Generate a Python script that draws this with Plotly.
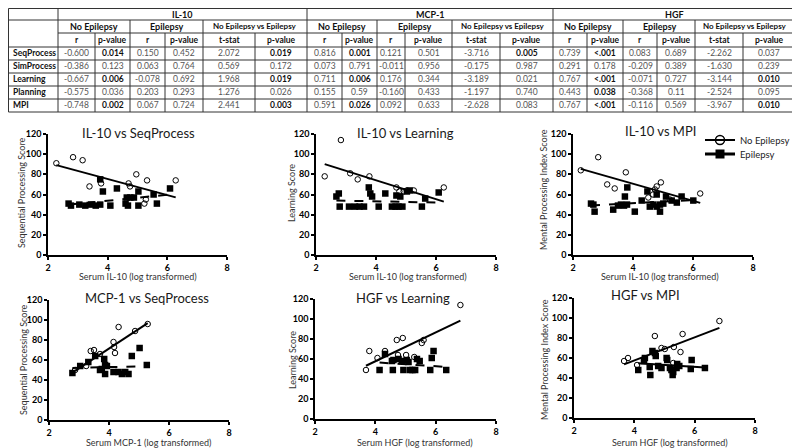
import plotly.graph_objects as go

# The page body adds an 8px margin; size the figure to the visible window and shift coordinates
OX, OY = 8, 8
FW, FH = 792, 440
FONT = "Lato"

# ---------------- Table data ----------------
markers = ["IL-10", "MCP-1", "HGF"]
subgroups = ["No Epilepsy", "Epilepsy", "No Epilepsy vs Epilepsy"]
subheads = ["r", "p-value", "r", "p-value", "t-stat", "p-value"]
outcomes = ["SeqProcess", "SimProcess", "Learning", "Planning", "MPI"]

il10_no_r = ["-0.600", "-0.386", "-0.667", "-0.575", "-0.748"]
il10_no_p = ["0.014", "0.123", "0.006", "0.036", "0.002"]
il10_ep_r = ["0.150", "0.063", "-0.078", "0.203", "0.067"]
il10_ep_p = ["0.452", "0.764", "0.692", "0.293", "0.724"]
il10_t = ["2.072", "0.569", "1.968", "1.276", "2.441"]
il10_tp = ["0.019", "0.172", "0.019", "0.026", "0.003"]

mcp1_no_r = ["0.816", "0.073", "0.711", "0.155", "0.591"]
mcp1_no_p = ["0.001", "0.791", "0.006", "0.59", "0.026"]
mcp1_ep_r = ["0.121", "-0.011", "0.176", "-0.160", "0.092"]
mcp1_ep_p = ["0.501", "0.956", "0.344", "0.433", "0.633"]
mcp1_t = ["-3.716", "-0.175", "-3.189", "-1.197", "-2.628"]
mcp1_tp = ["0.005", "0.987", "0.021", "0.740", "0.083"]

hgf_no_r = ["0.739", "0.291", "0.767", "0.443", "0.767"]
hgf_no_p = ["<.001", "0.178", "<.001", "0.038", "<.001"]
hgf_ep_r = ["0.083", "-0.209", "-0.071", "-0.368", "-0.116"]
hgf_ep_p = ["0.689", "0.389", "0.727", "0.11", "0.569"]
hgf_t = ["-2.262", "-1.630", "-3.144", "-2.524", "-3.967"]
hgf_tp = ["0.037", "0.239", "0.010", "0.095", "0.010"]

# bold flags for each p-value column
il10_no_bold = [1, 0, 1, 0, 1]
il10_tp_bold = [1, 0, 1, 0, 1]
mcp1_no_bold = [1, 0, 1, 0, 1]
mcp1_tp_bold = [1, 0, 0, 0, 0]
hgf_no_bold = [1, 0, 1, 1, 1]
hgf_tp_bold = [0, 0, 1, 0, 1]
none_bold = [0, 0, 0, 0, 0]

table_cols = [
    (il10_no_r, none_bold), (il10_no_p, il10_no_bold), (il10_ep_r, none_bold),
    (il10_ep_p, none_bold), (il10_t, none_bold), (il10_tp, il10_tp_bold),
    (mcp1_no_r, none_bold), (mcp1_no_p, mcp1_no_bold), (mcp1_ep_r, none_bold),
    (mcp1_ep_p, none_bold), (mcp1_t, none_bold), (mcp1_tp, mcp1_tp_bold),
    (hgf_no_r, none_bold), (hgf_no_p, hgf_no_bold), (hgf_ep_r, none_bold),
    (hgf_ep_p, none_bold), (hgf_t, none_bold), (hgf_tp, hgf_tp_bold),
]

# ---------------- Scatter data ----------------
# Panel 1: IL-10 vs SeqProcess
p1_x_no = [2.28, 2.84, 3.16, 3.39, 3.78, 4.70, 4.75, 4.96, 5.32, 5.23, 5.28, 6.28]
p1_y_no = [91, 97, 94, 68, 71, 71, 68, 80, 74, 51, 55, 74]
p1_x_ep = [2.69, 2.77, 3.05, 3.25, 3.45, 3.60, 3.75, 3.75, 3.84, 4.09, 4.31, 4.60, 4.68, 4.64, 4.76, 4.88, 5.03, 5.03, 5.54, 5.65, 6.09]
p1_y_ep = [51, 49, 50, 49, 50, 49, 50, 75, 63, 49, 66, 51, 49, 57, 57, 57, 63, 49, 60, 51, 66]
p1_fit_no = [-8.0, 107.4]
p1_fit_ep = [2.94, 42.06]

# Panel 2: IL-10 vs Learning
p2_x_no = [2.29, 2.83, 3.14, 3.39, 3.78, 4.68, 4.78, 4.92, 5.03, 5.26, 6.26]
p2_y_no = [78, 114, 81, 75, 78, 67, 63, 63, 64, 64, 67]
p2_x_ep = [2.68, 2.76, 2.79, 3.10, 3.30, 3.45, 3.60, 3.76, 3.81, 3.87, 4.09, 4.31, 4.53, 4.65, 4.75, 4.88, 4.68, 4.81, 5.03, 5.12, 5.53, 5.64, 6.09]
p2_y_ep = [58, 61, 48, 48, 48, 48, 48, 67, 61, 58, 48, 61, 48, 48, 48, 48, 59, 58, 63, 64, 48, 56, 62]
p2_fit_no = [-9.37, 111.55]
p2_fit_ep = [-0.59, 55.6]

# Panel 3: IL-10 vs MPI
p3_x_no = [2.26, 2.84, 3.14, 3.39, 3.76, 4.51, 4.67, 4.73, 4.79, 4.93, 5.23, 6.24]
p3_y_no = [84, 97, 70, 66, 82, 57, 60, 65, 68, 72, 55, 61]
p3_x_ep = [2.60, 2.68, 2.72, 3.34, 3.50, 3.60, 3.70, 3.80, 3.73, 3.81, 4.06, 4.29, 4.48, 4.56, 4.68, 4.79, 4.90, 4.79, 4.90, 5.01, 5.10, 5.29, 5.46, 5.62, 6.01]
p3_y_ep = [51, 50, 43, 45, 49, 50, 49, 50, 58, 67, 43, 54, 63, 48, 50, 48, 50, 60, 43, 51, 58, 54, 52, 58, 54]
p3_fit_no = [-8.46, 104.5]
p3_fit_ep = [1.57, 45.1]

# Panel 4: MCP-1 vs SeqProcess
p4_x_no = [2.87, 3.24, 3.39, 3.50, 3.70, 4.15, 4.17, 4.20, 4.32, 4.87, 5.29]
p4_y_no = [50, 54, 69, 70, 66, 78, 73, 67, 93, 89, 96]
p4_x_ep = [2.78, 3.04, 3.31, 3.54, 3.70, 3.76, 3.84, 3.87, 3.93, 3.87, 4.15, 4.32, 4.43, 4.54, 4.65, 4.76, 5.02, 5.26]
p4_y_ep = [47, 54, 58, 64, 50, 51, 61, 55, 54, 46, 48, 48, 46, 48, 46, 64, 72, 55]
p4_fit_no = [19.7, -7.4]
p4_fit_ep = [0.8, 49.7]

# Panel 5: HGF vs Learning
p5_x_no = [3.69, 3.80, 4.07, 4.32, 4.71, 4.91, 4.75, 5.02, 5.29, 5.54, 5.60, 6.82]
p5_y_no = [49, 68, 61, 68, 79, 81, 64, 64, 62, 76, 79, 114]
p5_x_ep = [4.14, 4.32, 4.55, 4.60, 4.58, 4.77, 4.88, 4.93, 5.04, 5.10, 5.15, 5.23, 5.32, 5.38, 5.47, 5.82, 5.87, 5.93, 6.35]
p5_y_ep = [49, 65, 58, 59, 49, 60, 58, 49, 59, 57, 49, 49, 49, 60, 58, 49, 61, 68, 49]
p5_fit_no = [14.4, 0.13]
p5_fit_ep = [-1.97, 64.6]

# Panel 6: HGF vs MPI
p6_x_no = [3.66, 3.79, 4.09, 4.68, 4.90, 5.01, 5.31, 5.29, 5.60, 5.53, 6.82]
p6_y_no = [57, 60, 53, 82, 70, 69, 71, 55, 84, 66, 97]
p6_x_ep = [4.13, 4.35, 4.32, 4.51, 4.53, 4.60, 4.68, 4.71, 4.79, 4.90, 5.07, 5.09, 5.18, 5.23, 5.27, 5.29, 5.40, 5.49, 5.42, 5.87, 5.90, 6.34]
p6_y_ep = [48, 60, 57, 51, 43, 67, 65, 62, 52, 50, 60, 58, 50, 48, 43, 46, 50, 52, 54, 49, 58, 50]
p6_fit_no = [11.55, 11.4]
p6_fit_ep = [-1.92, 62.6]

x_ticks = [2, 4, 6, 8]
y_ticks = [0, 20, 40, 60, 80, 100, 120]

panels = [
    dict(title="IL-10 vs SeqProcess", xlab="Serum IL-10 (log transformed)", ylab="Sequential Processing Score",
         xn=p1_x_no, yn=p1_y_no, xe=p1_x_ep, ye=p1_y_ep, fn=p1_fit_no, fe=p1_fit_ep, edash="dash"),
    dict(title="IL-10 vs Learning", xlab="Serum IL-10 (log transformed)", ylab="Learning Score",
         xn=p2_x_no, yn=p2_y_no, xe=p2_x_ep, ye=p2_y_ep, fn=p2_fit_no, fe=p2_fit_ep, edash="dash"),
    dict(title="IL-10 vs MPI", xlab="Serum IL-10 (log transformed)", ylab="Mental Processing Index Score",
         xn=p3_x_no, yn=p3_y_no, xe=p3_x_ep, ye=p3_y_ep, fn=p3_fit_no, fe=p3_fit_ep, edash="dash"),
    dict(title="MCP-1 vs SeqProcess", xlab="Serum MCP-1 (log transformed)", ylab="Sequential Processing Score",
         xn=p4_x_no, yn=p4_y_no, xe=p4_x_ep, ye=p4_y_ep, fn=p4_fit_no, fe=p4_fit_ep, edash="dash"),
    dict(title="HGF vs Learning", xlab="Serum HGF (log transformed)", ylab="Learning Score",
         xn=p5_x_no, yn=p5_y_no, xe=p5_x_ep, ye=p5_y_ep, fn=p5_fit_no, fe=p5_fit_ep, edash="dash"),
    dict(title="HGF vs MPI", xlab="Serum HGF (log transformed)", ylab="Mental Processing Index Score",
         xn=p6_x_no, yn=p6_y_no, xe=p6_x_ep, ye=p6_y_ep, fn=p6_fit_no, fe=p6_fit_ep, edash="solid"),
]

# ---------------- Layout geometry (window pixels) ----------------
def PX(x):
    return (x - OX) / FW

def PY(y):
    return 1 - (y - OY) / FH

# plot boxes: (x0, x1, ytop, ybottom)
boxes = [(48, 227, 134, 255), (316, 496, 134, 255), (573, 753, 134, 255),
         (49, 229, 300, 420), (315, 496, 299, 419), (574, 755, 298, 418)]
title_pos = [(138, 133), (405, 133), (660, 131), (147, 298), (403, 298), (645, 295)]
xlab_pos = [(138, 276), (408, 276), (660, 276), (148, 442), (415, 442), (670, 442)]
ylab_pos = [(22, 193), (292, 193), (544, 190), (23, 360), (292, 360), (544, 360)]

fig = go.Figure()
annotations = []
shapes = []
TICKFONT = dict(family=FONT, size=9, color="black", weight="bold")


def note(x, y, text, size, color="#111", bold=False, xanchor="center", angle=0):
    annotations.append(dict(x=PX(x), y=PY(y), xref="paper", yref="paper", text=text, showarrow=False,
                            xanchor=xanchor, yanchor="middle", textangle=angle,
                            font=dict(family=FONT, size=size, color=color,
                                      weight="bold" if bold else "normal")))


for i, p in enumerate(panels):
    k = "" if i == 0 else str(i + 1)
    xa, ya = "x" + k, "y" + k
    x0, x1, yt, yb = boxes[i]
    fig.update_layout(**{
        "xaxis" + k: dict(domain=[PX(x0), PX(x1)], range=[2, 8], tickvals=x_ticks, anchor=ya,
                          showline=True, linecolor="black", linewidth=1.5, ticks="outside", ticklen=3,
                          tickwidth=1.5, tickcolor="black", showgrid=False, zeroline=False,
                          tickfont=TICKFONT, automargin=False),
        "yaxis" + k: dict(domain=[PY(yb), PY(yt)], range=[0, 120], tickvals=y_ticks, anchor=xa,
                          showline=True, linecolor="black", linewidth=1.5, ticks="outside", ticklen=3,
                          tickwidth=1.5, tickcolor="black", showgrid=False, zeroline=False,
                          tickfont=TICKFONT, automargin=False),
    })
    # fitted regression lines
    for xs, fit, dash in [(p["xn"], p["fn"], "solid"), (p["xe"], p["fe"], p["edash"])]:
        lo, hi = min(xs), max(xs)
        fig.add_trace(go.Scatter(x=[lo, hi], y=[fit[0] * lo + fit[1], fit[0] * hi + fit[1]],
                                 mode="lines", line=dict(color="black", width=2, dash=dash),
                                 xaxis=xa, yaxis=ya, showlegend=False, hoverinfo="skip"))
    fig.add_trace(go.Scatter(x=p["xe"], y=p["ye"], mode="markers", xaxis=xa, yaxis=ya,
                             marker=dict(symbol="square", size=6.5, color="black"), showlegend=False))
    fig.add_trace(go.Scatter(x=p["xn"], y=p["yn"], mode="markers", xaxis=xa, yaxis=ya,
                             marker=dict(symbol="circle-open", size=5.5, color="black", line=dict(width=1)),
                             showlegend=False))
    tx, ty = title_pos[i]
    note(tx, ty, p["title"], 13, color="#1a1a1a")
    lx, ly = xlab_pos[i]
    note(lx, ly, p["xlab"], 9, color="#333")
    vx, vy = ylab_pos[i]
    note(vx, vy, p["ylab"], 9, color="#333", angle=-90)

# legend proxies (entries only)
fig.add_trace(go.Scatter(x=[None], y=[None], mode="lines+markers", name="No Epilepsy",
                         line=dict(color="black", width=2),
                         marker=dict(symbol="circle-open", size=9, color="black", line=dict(width=1.5)),
                         legend="legend", xaxis="x3", yaxis="y3"))
fig.add_trace(go.Scatter(x=[None], y=[None], mode="lines+markers", name="Epilepsy",
                         line=dict(color="black", width=3),
                         marker=dict(symbol="square", size=9, color="black"),
                         legend="legend2", xaxis="x3", yaxis="y3"))

# ---------------- Table ----------------
cols = [8.5, 58, 95, 130, 165, 203, 255, 307, 342, 377, 405, 452, 500, 553, 587, 623, 657, 695, 743, 795]
rows = [8.5, 20, 33, 47, 60, 73, 86, 99, 112]
LC = "#333"


def hline(y, xa, xb, w=1):
    shapes.append(dict(type="line", xref="paper", yref="paper", x0=PX(xa), x1=PX(xb), y0=PY(y), y1=PY(y),
                       line=dict(color=LC, width=w)))


def vline(x, ya, yb, w=1):
    shapes.append(dict(type="line", xref="paper", yref="paper", x0=PX(x), x1=PX(x), y0=PY(ya), y1=PY(yb),
                       line=dict(color=LC, width=w)))


hline(rows[0], cols[0], cols[-1])
hline(rows[1], cols[0], cols[-1])
hline(rows[2], cols[1], cols[-1])
for r in rows[3:]:
    hline(r, cols[0], cols[-1])
for j, c in enumerate(cols):
    if j in (0, 1, 7, 13, 19):
        vline(c, rows[0], rows[-1])
    elif (j - 1) % 2 == 0:
        vline(c, rows[1], rows[-1])
    else:
        vline(c, rows[2], rows[-1])

for g, m in enumerate(markers):
    a, b = cols[1 + 6 * g], cols[7 + 6 * g]
    note((a + b) / 2, 14, m, 9, bold=True)
    for s, sg in enumerate(subgroups):
        a, b = cols[1 + 6 * g + 2 * s], cols[3 + 6 * g + 2 * s]
        note((a + b) / 2, (rows[1] + rows[2]) / 2, sg, 8 if s == 2 else 9, bold=True)
    for h, sh in enumerate(subheads):
        a, b = cols[1 + 6 * g + h], cols[2 + 6 * g + h]
        note((a + b) / 2, (rows[2] + rows[3]) / 2, sh, 8.5, bold=True)

for r, o in enumerate(outcomes):
    yc = (rows[3 + r] + rows[4 + r]) / 2
    note(cols[0] + 2, yc, o, 8.5, bold=True, xanchor="left")
    for c, (vals, bolds) in enumerate(table_cols):
        xc = (cols[1 + c] + cols[2 + c]) / 2
        bb = bool(bolds[r])
        note(xc, yc, vals[r], 8.5, color="#111" if bb else "#555", bold=bb)

fig.update_layout(
    width=FW, height=FH, margin=dict(l=0, r=0, t=0, b=0, autoexpand=False),
    paper_bgcolor="white", plot_bgcolor="white",
    annotations=annotations, shapes=shapes,
    legend=dict(x=PX(700), y=PY(140), xanchor="left", yanchor="middle", bgcolor="rgba(0,0,0,0)",
                font=dict(family=FONT, size=9.5, color="#222"), itemwidth=30),
    legend2=dict(x=PX(700), y=PY(154), xanchor="left", yanchor="middle", bgcolor="rgba(0,0,0,0)",
                 font=dict(family=FONT, size=9.5, color="#222"), itemwidth=30),
)

fig.write_html("out.html")
